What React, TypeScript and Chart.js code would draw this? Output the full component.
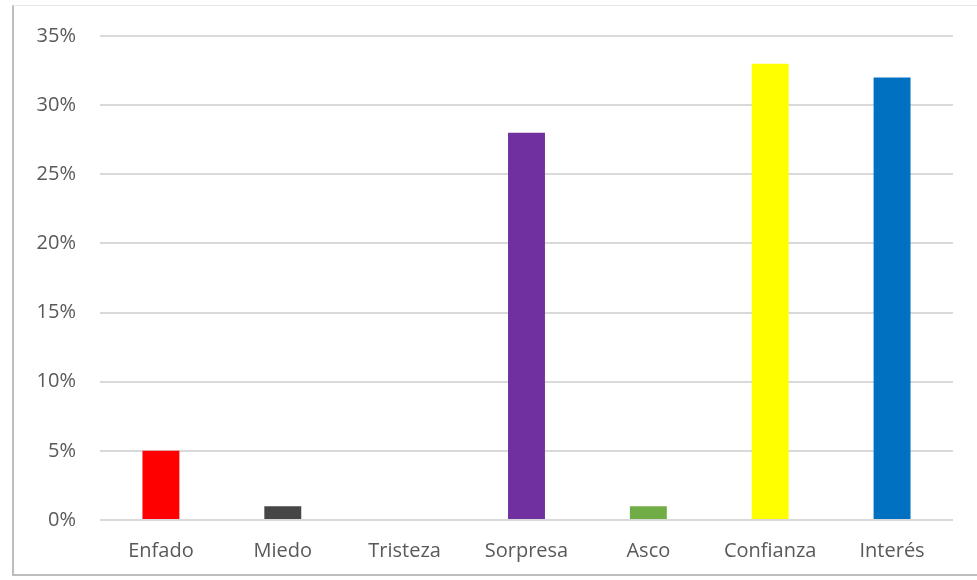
import React, { useEffect, useRef } from "react";
import { Chart, registerables } from "chart.js";

Chart.register(...registerables);

const categories = ["Enfado", "Miedo", "Tristeza", "Sorpresa", "Asco", "Confianza", "Interés"];
const values = [5, 1, 0, 28, 1, 33, 32];
const barColors = ["#FF0000", "#464646", "#A5A5A5", "#7030A0", "#70AD47", "#FFFF00", "#0070C0"];
const yTicks = [0, 5, 10, 15, 20, 25, 30, 35];

export default function App() {
  const ref = useRef<HTMLCanvasElement | null>(null);

  useEffect(() => {
    document.body.style.margin = "0";
    const canvas = ref.current;
    if (!canvas) return;
    const font = { family: "'Open Sans', sans-serif", size: 20 };
    const chart = new Chart(canvas, {
      type: "bar",
      data: {
        labels: categories,
        datasets: [
          {
            data: values,
            backgroundColor: barColors,
            borderWidth: 0,
            barPercentage: 0.303,
            categoryPercentage: 1,
          },
        ],
      },
      options: {
        responsive: false,
        animation: false,
        devicePixelRatio: 1,
        layout: { padding: { left: 0, right: 24, top: 36, bottom: 0 } },
        plugins: { legend: { display: false }, tooltip: { enabled: false } },
        scales: {
          x: {
            grid: { display: false, drawTicks: false },
            border: { display: false },
            ticks: { color: "#595959", font, padding: 19, maxRotation: 0 },
            afterFit: (s: any) => {
              s.height = 60;
            },
          },
          y: {
            min: 0,
            max: 35,
            afterBuildTicks: (s: any) => {
              s.ticks = yTicks.map((v) => ({ value: v }));
            },
            grid: { color: "#D9D9D9", lineWidth: 2, drawTicks: false },
            border: { display: false },
            ticks: {
              color: "#595959",
              font,
              padding: 24,
              callback: (v: any) => v + "%",
            },
            afterFit: (s: any) => {
              s.width = 100;
            },
          },
        },
      },
    });
    return () => chart.destroy();
  }, []);

  return (
    <div style={{ position: "relative", width: 977, height: 580, background: "#fff" }}>
      <canvas ref={ref} width={977} height={580} style={{ position: "absolute", left: 0, top: 0 }} />
      <div
        style={{
          position: "absolute",
          left: 12,
          top: 5,
          width: 980,
          height: 571,
          borderLeft: "2px solid #BDBDBD",
          borderTop: "1px solid #E8E8E8",
          borderBottom: "2px solid #BDBDBD",
          boxSizing: "border-box",
          pointerEvents: "none",
        }}
      />
    </div>
  );
}
